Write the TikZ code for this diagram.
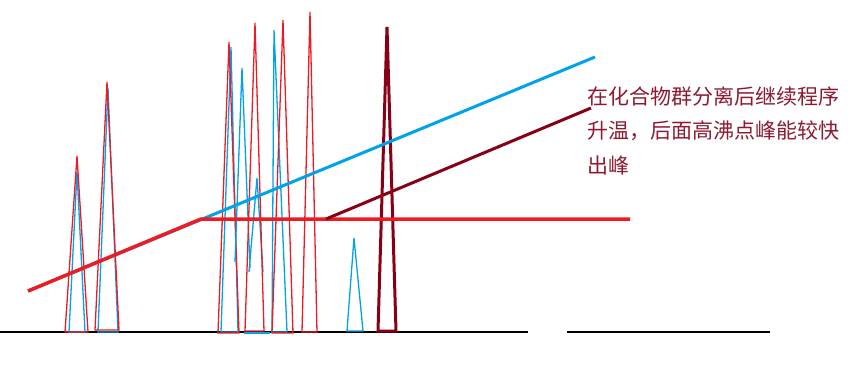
\documentclass[tikz,border=0pt]{standalone}
\usepackage{fontspec}
\newfontfamily\cjk{Noto Sans CJK SC}
\definecolor{pRed}{RGB}{237,28,36}
\definecolor{pBlue}{RGB}{0,162,232}
\definecolor{pDark}{RGB}{136,0,21}
\definecolor{pText}{RGB}{140,26,48}
\tikzset{
  redpk/.style={draw=pRed,line width=1.3pt,line join=miter},
  bluepk/.style={draw=pBlue,line width=1.3pt,line join=miter},
  darkpk/.style={draw=pDark,line width=3pt,line join=miter},
  axisline/.style={draw=black,line width=1.5pt},
  trendblue/.style={draw=pBlue,line width=3pt},
  trendred/.style={draw=pRed,line width=3.5pt},
  trenddark/.style={draw=pDark,line width=3pt},
  note/.style={anchor=west,text=pText,inner sep=0pt,font=\cjk\fontsize{21}{21}\selectfont}
}
\begin{document}
\begin{tikzpicture}[x=1pt,y=-1pt]
\useasboundingbox (0,0) rectangle (855,365);
% baseline
\draw[axisline] (0,332) -- (528,332);
\draw[axisline] (567,332) -- (770,332);
% peak 1
\draw[bluepk] (69,332) -- (77,172) -- (85,332) -- cycle;
\draw[redpk] (65,332) -- (77,156) -- (88,332) -- cycle;
% peak 2
\draw[bluepk] (98,332) -- (108,88) -- (118,332) -- cycle;
\draw[redpk] (95,330) -- (107,82) -- (119,330) -- cycle;
% cluster
\draw[bluepk] (221,332) -- (231,47) -- (238,332) -- cycle;
\draw[redpk] (218,333) -- (229,42) -- (239,333) -- cycle;
\draw[bluepk] (235,262) -- (242,68) -- (250,268);
\draw[bluepk] (249,272) -- (257,178) -- (263,272);
\draw[bluepk] (244,333) -- (270,333);
\draw[redpk] (245,331) -- (255,23) -- (264,331) -- cycle;
\draw[bluepk] (272,332) -- (274,30) -- (287,332) -- cycle;
\draw[redpk] (272,333) -- (283,20) -- (293,333) -- cycle;
\draw[redpk] (302,332) -- (310,12) -- (317,332) -- cycle;
\draw[bluepk] (347,331) -- (354,238) -- (363,331) -- cycle;
\draw[darkpk] (378,331) -- (387,27) -- (396,331) -- cycle;
% trend lines
\coordinate (bS) at (28,291);
\coordinate (bE) at (595,57);
\coordinate (rK) at (201,219);
\coordinate (rE) at (630,219);
\coordinate (dS) at (326,219);
\coordinate (dE) at (591,108);
\draw[trendblue] (bS) -- (bE);
\draw[trendred] (bS) -- (rK) -- (rE);
\draw[trenddark] (dS) -- (dE);
% note
\node[note] (n1) at (587,96) {在化合物群分离后继续程序};
\node[note] (n2) at (587,131) {升温，后面高沸点峰能较快};
\node[note] (n3) at (587,166) {出峰};
\end{tikzpicture}
\end{document}
